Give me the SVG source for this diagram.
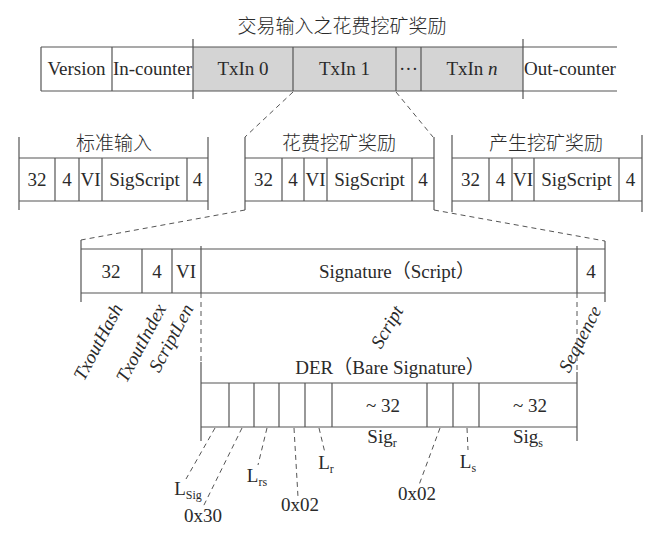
<svg xmlns="http://www.w3.org/2000/svg" width="667" height="542" viewBox="0 0 667 542">
<style>
text{font-family:"Liberation Serif","Noto Sans CJK SC",serif;font-size:19px;fill:#2a2a2a;text-anchor:middle}
.cjk{font-family:"Noto Sans CJK SC","Liberation Serif",sans-serif;font-size:19px;font-weight:300}
.it{font-style:italic}
.ln{stroke:#555;stroke-width:1.2;fill:none}
.dash{stroke:#555;stroke-width:1;fill:none;stroke-dasharray:5 4}
.sub{font-size:12px}
</style>
<rect width="667" height="542" fill="#fff"/>

<g id="title"><text class="cjk" x="342" y="33">交易输入之花费挖矿奖励</text></g>

<g id="tx-bar">
<rect x="193" y="47" width="330" height="44" fill="#d4d4d4"/>
<path class="ln" d="M41 47H617M41 91H617M41 47V91M112 47V91M193 39V99M523 39V99M293 47V91M396 47V91M421 47V91"/>
<text x="76.5" y="75">Version</text>
<text x="152.5" y="75">In-counter</text>
<text x="243" y="75">TxIn 0</text>
<text x="344.5" y="75">TxIn 1</text>
<text x="408.5" y="75">···</text>
<text x="472" y="75">TxIn <tspan class="it">n</tspan></text>
<text x="570" y="75">Out-counter</text>
</g>

<g id="std-input">
<path class="ln" d="M19 137V210M208 137V210M19 158H208M19 201H208M55 158V201M79 158V201M102 158V201M187 158V201"/>
<text class="cjk" x="114" y="150">标准输入</text>
<text x="37" y="186">32</text><text x="67" y="186">4</text><text x="90.5" y="186">VI</text><text x="144.5" y="186">SigScript</text><text x="197.5" y="186">4</text>
</g>

<g id="spend-reward">
<path class="ln" d="M245 137V210M434 137V210M245 158H434M245 201H434M282 158V201M304 158V201M327 158V201M412 158V201"/>
<text class="cjk" x="339" y="150">花费挖矿奖励</text>
<text x="263.5" y="186">32</text><text x="293" y="186">4</text><text x="315.5" y="186">VI</text><text x="369.5" y="186">SigScript</text><text x="423" y="186">4</text>
</g>

<g id="gen-reward">
<path class="ln" d="M452 135V212M642 135V212M452 158H642M452 201H642M489 158V201M512 158V201M534 158V201M619 158V201"/>
<text class="cjk" x="546" y="150">产生挖矿奖励</text>
<text x="470.5" y="186">32</text><text x="500.5" y="186">4</text><text x="523" y="186">VI</text><text x="576.5" y="186">SigScript</text><text x="630.5" y="186">4</text>
</g>

<g id="input-detail">
<path class="ln" d="M81 240V302M605 241V302M81 249H605M81 293H605M142 249V293M172 249V293M201 246V293M577 246V293"/>
<text x="111" y="278">32</text><text x="157" y="278">4</text><text x="186" y="278">VI</text>
<text x="397" y="278">Signature（Script）</text><text x="591" y="278">4</text>
<text class="it" transform="translate(98 342) rotate(-62)" dy="0.33em">TxoutHash</text>
<text class="it" transform="translate(141 343) rotate(-62)" dy="0.33em">TxoutIndex</text>
<text class="it" transform="translate(171 338) rotate(-62)" dy="0.33em">ScriptLen</text>
<text class="it" transform="translate(387 327) rotate(-60)" dy="0.33em">Script</text>
<text class="it" transform="translate(580 339) rotate(-63)" dy="0.33em">Sequence</text>
</g>

<g id="der">
<path class="ln" d="M201 362V441M577 372V441M201 383H577M201 427H577M229 383V427M254 383V427M279 383V427M305 383V427M332 383V427M427 383V427M453 383V427M479 383V427"/>
<text x="390" y="374">DER（Bare Signature）</text>
<text x="383" y="412">~ 32</text>
<text x="530" y="412">~ 32</text>
<text x="382" y="443">Sig<tspan class="sub" dy="4">r</tspan></text>
<text x="528" y="443">Sig<tspan class="sub" dy="4">s</tspan></text>
<text x="188" y="495">L<tspan class="sub" dy="4">Sig</tspan></text>
<text x="203" y="522">0x30</text>
<text x="257" y="482">L<tspan class="sub" dy="4">rs</tspan></text>
<text x="300" y="511">0x02</text>
<text x="326" y="469">L<tspan class="sub" dy="4">r</tspan></text>
<text x="417" y="500">0x02</text>
<text x="468" y="468">L<tspan class="sub" dy="4">s</tspan></text>
</g>

<g id="connectors">
<path class="dash" d="M293 92L245 137M396 92L433 137"/>
<path class="dash" d="M245 210L81 240M434 210L605 241"/>
<path class="dash" d="M201 293V362M577 293V372"/>
<path class="dash" d="M215 428L186 479M242 428L203 507M267 428L258 465M294 428L298 497M319 428L325 453M440 428L419 485M467 428L468 450"/>
</g>
</svg>
